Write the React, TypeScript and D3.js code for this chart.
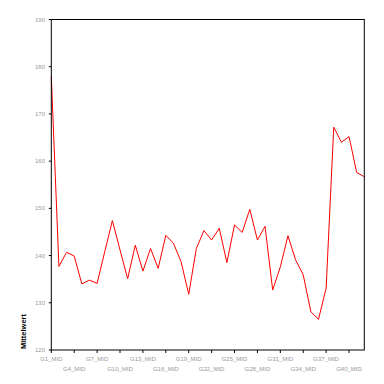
import React from "react";
import * as d3 from "d3";

const categories: string[] = Array.from({ length: 42 }, (_, i) => `G${i + 1}_MID`);
const values: number[] = [
  178.0, 137.7, 140.7, 139.9, 134.0, 134.8, 134.1, 140.8, 147.4, 141.2,
  135.1, 142.2, 136.7, 141.5, 137.3, 144.3, 142.6, 138.7, 131.8, 141.5,
  145.3, 143.3, 145.8, 138.5, 146.5, 144.9, 149.8, 143.3, 146.2, 132.7,
  137.6, 144.2, 139.1, 135.9, 128.1, 126.5, 133.1, 167.2, 164.0, 165.2,
  157.6, 156.7,
];
const yTicks: number[] = [120, 130, 140, 150, 160, 170, 180, 190];
const yTitle = "Mittelwert";

export default function App() {
  const W = 384, H = 384;
  const left = 51.3, right = 364.3, top = 19.5, bottom = 350;
  const x = d3.scalePoint<string>().domain(categories).range([left, right]);
  const y = d3.scaleLinear().domain([120, 190]).range([bottom, top]);
  const line = d3
    .line<number>()
    .x((_, i) => x(categories[i]) as number)
    .y((d) => y(d));
  const tickCats = categories.filter((_, i) => i % 3 === 0);
  return (
    <svg
      width={W}
      height={H}
      style={{ position: "absolute", left: 0, top: 0, background: "#fff" }}
      fontFamily="Liberation Sans, Arial, sans-serif"
    >
      <rect x={0} y={0} width={W} height={H} fill="#fff" />
      <path d={line(values) || ""} fill="none" stroke="#ff0000" strokeWidth={1} />
      <rect
        x={left}
        y={top}
        width={right - left}
        height={bottom - top}
        fill="none"
        stroke="#000"
        strokeWidth={1}
      />
      {yTicks.map((t) => (
        <g key={t}>
          <line x1={left - 2.5} x2={left} y1={y(t)} y2={y(t)} stroke="#000" />
          <text
            x={45}
            y={y(t)}
            fontSize={6}
            fill="#999"
            textAnchor="end"
            dominantBaseline="central"
          >
            {t}
          </text>
        </g>
      ))}
      {tickCats.map((c, k) => (
        <g key={c}>
          <line
            x1={x(c) as number}
            x2={x(c) as number}
            y1={bottom}
            y2={bottom + 3}
            stroke="#000"
          />
          <text
            x={x(c) as number}
            y={k % 2 === 0 ? 361 : 370.5}
            fontSize={6}
            fill="#999"
            textAnchor="middle"
          >
            {c}
          </text>
        </g>
      ))}
      <text
        transform={`translate(23,349) rotate(-90)`}
        fontSize={7.5}
        fontWeight="bold"
        fill="#000"
        textAnchor="start"
        dominantBaseline="central"
      >
        {yTitle}
      </text>
    </svg>
  );
}
